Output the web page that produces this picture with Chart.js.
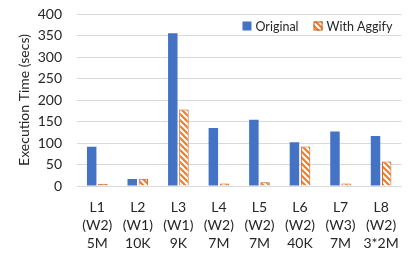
<!DOCTYPE html>
<html>
<head>
<meta charset="utf-8">
<script src="https://cdn.jsdelivr.net/npm/chart.js@4"></script>
<style>
  html, body { margin: 0; padding: 0; background: #fff; }
  #wrap { width: 411px; height: 258px; }
</style>
</head>
<body>
<div id="wrap"><canvas id="myChart"></canvas></div>
<script>
const labels = [
  ['L1', '(W2)', '5M'],
  ['L2', '(W1)', '10K'],
  ['L3', '(W1)', '9K'],
  ['L4', '(W2)', '7M'],
  ['L5', '(W2)', '7M'],
  ['L6', '(W2)', '40K'],
  ['L7', '(W3)', '7M'],
  ['L8', '(W2)', '3*2M']
];
const original = [91, 16, 355, 135, 154, 102, 127, 116];
const withAggify = [5, 17, 178, 6, 9, 92, 6, 57];

const FONT = 'Lato';
const TEXT = '#262626';

// diagonal hatch for the Aggify bars
function makeHatch() {
  const c = document.createElement('canvas');
  c.width = 6; c.height = 6;
  const g = c.getContext('2d');
  g.fillStyle = '#fff';
  g.fillRect(0, 0, 6, 6);
  g.strokeStyle = '#ED7D31';
  g.lineWidth = 2.2;
  g.beginPath();
  g.moveTo(-1, -1); g.lineTo(7, 7);
  g.moveTo(-4, 2); g.lineTo(4, 10);
  g.moveTo(2, -4); g.lineTo(10, 4);
  g.stroke();
  return g.createPattern(c, 'repeat');
}
const hatch = makeHatch();

const data = {
  labels: labels,
  datasets: [
    {
      label: 'Original',
      data: original,
      backgroundColor: '#4472C4',
      borderWidth: 0,
      categoryPercentage: 0.55,
      barPercentage: 0.85
    },
    {
      label: 'With Aggify',
      data: withAggify,
      backgroundColor: hatch,
      borderColor: '#C55A11',
      borderWidth: 1,
      categoryPercentage: 0.55,
      barPercentage: 0.85
    }
  ]
};

// legend drawn inside the plot, top right
const legendInside = {
  id: 'legendInside',
  afterDraw(chart) {
    const ctx = chart.ctx;
    const area = chart.chartArea;
    ctx.save();
    ctx.font = '12.5px ' + FONT;
    ctx.textBaseline = 'middle';
    ctx.textAlign = 'left';
    const y = area.top + 12;
    const box = 9;
    const items = chart.data.datasets.map(ds => ({ text: ds.label, ds: ds }));
    const widths = items.map(it => box + 4 + ctx.measureText(it.text).width);
    const gap = 15;
    let x = area.right - 9 - widths.reduce((a, b) => a + b, 0) - gap * (items.length - 1);
    items.forEach((it, i) => {
      ctx.fillStyle = it.ds.backgroundColor;
      ctx.fillRect(x, y - box / 2, box, box);
      if (it.ds.borderWidth) {
        ctx.strokeStyle = it.ds.borderColor;
        ctx.lineWidth = 1;
        ctx.strokeRect(x + 0.5, y - box / 2 + 0.5, box - 1, box - 1);
      }
      ctx.fillStyle = TEXT;
      ctx.fillText(it.text, x + box + 4, y + 1);
      x += widths[i] + gap;
    });
    ctx.restore();
  }
};

const config = {
  type: 'bar',
  data: data,
  options: {
    responsive: true,
    maintainAspectRatio: false,
    animation: false,
    layout: { padding: { top: 0, right: 5, bottom: 0, left: 16 } },
    plugins: {
      legend: { display: false },
      tooltip: { enabled: false }
    },
    scales: {
      x: {
        grid: { display: false, drawTicks: false },
        border: { display: false },
        ticks: { color: TEXT, font: { family: FONT, size: 14, lineHeight: '18px' }, padding: 12, maxRotation: 0 },
        afterFit(scale) { scale.height = 72; }
      },
      y: {
        min: 0,
        max: 400,
        grid: { color: '#d9d9d9', drawTicks: false },
        border: { display: false },
        ticks: { stepSize: 50, autoSkip: false, color: TEXT, font: { family: FONT, size: 14 }, padding: 15 },
        title: { display: true, text: 'Execution Time (secs)', color: TEXT, font: { family: FONT, size: 14 }, padding: 0 },
        afterFit(scale) {
          scale.width = 61;
          scale.paddingTop = 14;
        }
      }
    }
  },
  plugins: [legendInside]
};

var myChart = new Chart(document.getElementById('myChart'), config);
</script>
</body>
</html>
